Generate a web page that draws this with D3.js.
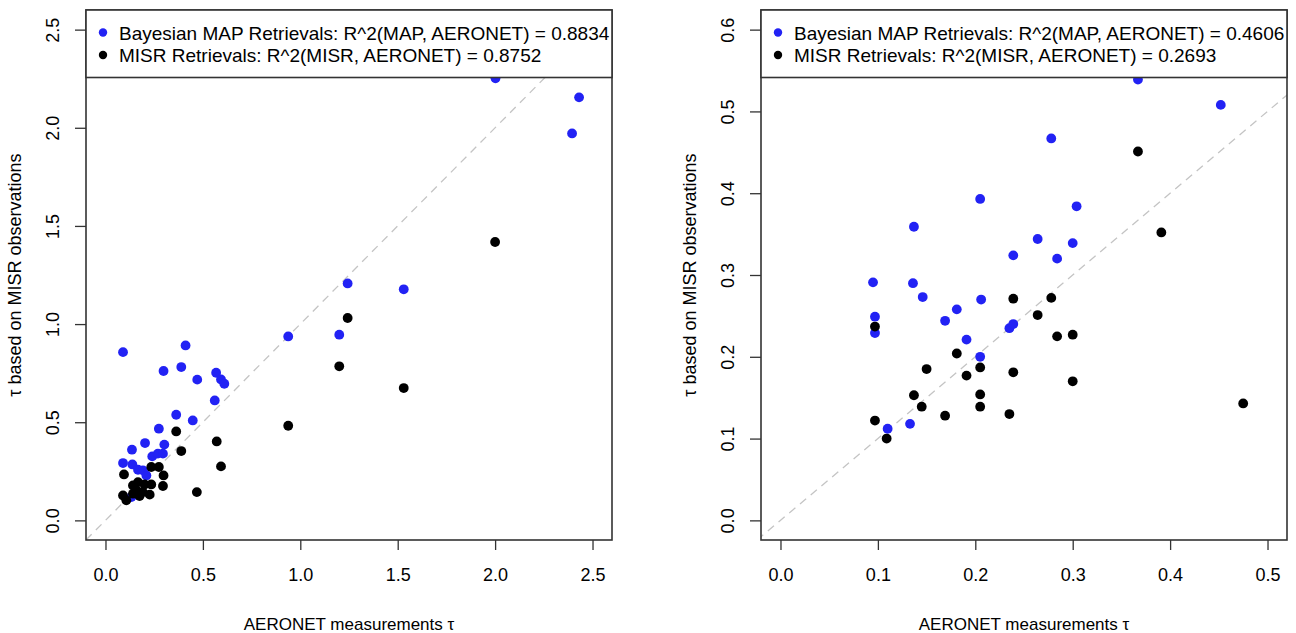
<!DOCTYPE html>
<html>
<head>
<meta charset="utf-8">
<script src="https://cdn.jsdelivr.net/npm/d3@7"></script>
<style>
  html, body { margin: 0; padding: 0; background: #fff; }
  svg text { font-family: "Liberation Sans", Arial, Helvetica, sans-serif; fill: #000; }
</style>
</head>
<body>
<svg id="chart" width="1296" height="633"></svg>
<script>
// ---------- Data ----------
// Left panel
const leftMapX = [0.090,0.411,0.298,0.389,0.471,0.568,0.593,0.610,0.561,0.363,0.448,0.274,0.203,0.136,0.302,0.240,0.269,0.295,0.090,0.138,0.167,0.192,0.210,0.133,1.243,1.531,0.938,1.200,2.002,2.431,2.395];
const leftMapY = [0.857,0.891,0.761,0.781,0.717,0.752,0.718,0.696,0.611,0.538,0.509,0.467,0.394,0.360,0.386,0.326,0.340,0.340,0.292,0.285,0.258,0.255,0.229,0.119,1.207,1.177,0.937,0.946,2.252,2.155,1.971];
const leftMisrX = [0.363,0.389,0.571,0.593,0.469,0.095,0.235,0.274,0.298,0.295,0.235,0.201,0.167,0.141,0.159,0.192,0.227,0.141,0.090,0.107,0.175,1.243,1.200,1.531,0.938,2.000];
const leftMisrY = [0.453,0.353,0.402,0.275,0.144,0.234,0.272,0.272,0.229,0.175,0.183,0.183,0.195,0.178,0.153,0.144,0.131,0.136,0.127,0.102,0.124,1.031,0.785,0.674,0.482,1.418];
// Right panel
const rightMapX = [0.205,0.137,0.239,0.264,0.284,0.095,0.136,0.146,0.206,0.181,0.169,0.097,0.097,0.191,0.235,0.239,0.205,0.110,0.133,0.367,0.452,0.278,0.304,0.300];
const rightMapY = [0.393,0.359,0.324,0.344,0.320,0.291,0.290,0.273,0.270,0.258,0.244,0.249,0.229,0.221,0.235,0.240,0.200,0.112,0.118,0.539,0.508,0.467,0.384,0.339];
const rightMisrX = [0.097,0.239,0.278,0.264,0.284,0.181,0.150,0.191,0.205,0.239,0.137,0.145,0.205,0.205,0.169,0.235,0.097,0.109,0.367,0.391,0.300,0.300,0.475];
const rightMisrY = [0.237,0.271,0.272,0.251,0.225,0.204,0.185,0.177,0.187,0.181,0.153,0.139,0.154,0.139,0.128,0.130,0.122,0.100,0.451,0.352,0.227,0.170,0.143];

const leftTicks = [0.0, 0.5, 1.0, 1.5, 2.0, 2.5];
const rightTicks = [0.0, 0.1, 0.2, 0.3, 0.4, 0.5];
const rightYTicks = [0.0, 0.1, 0.2, 0.3, 0.4, 0.5, 0.6];
const leftLim = [0, 2.5];
const rightXLim = [0, 0.5];
const rightYLim = [0, 0.6];

const legendLeft = ["Bayesian MAP Retrievals: R^2(MAP, AERONET) = 0.8834", "MISR Retrievals: R^2(MISR, AERONET) = 0.8752"];
const legendRight = ["Bayesian MAP Retrievals: R^2(MAP, AERONET) = 0.4606", "MISR Retrievals: R^2(MISR, AERONET) = 0.2693"];
const xTitle = "AERONET measurements \u03C4";
const yTitle = "\u03C4 based on MISR observations";

// ---------- Style ----------
const BLUE = "#2222f4";
const FRAME = "#333";
const TICKFONT = 18;
const LEGFONT = 19;
const XTFONT = 17;
const YTFONT = 18;
const svg = d3.select("#chart");

function ext(lim) { const w = lim[1] - lim[0]; return [lim[0] - 0.04 * w, lim[1] + 0.04 * w]; }

function panel(opts) {
  const { x0, x1, y0, y1 } = opts.box;
  const g = svg.append("g");
  const x = d3.scaleLinear().domain(ext(opts.xlim)).range([x0, x1]);
  const y = d3.scaleLinear().domain(ext(opts.ylim)).range([y1, y0]);
  const clipId = "clip" + opts.id;
  g.append("clipPath").attr("id", clipId).append("rect")
    .attr("x", x0).attr("y", y0).attr("width", x1 - x0).attr("height", y1 - y0);

  // diagonal y=x
  const dmin = Math.min(x.domain()[0], y.domain()[0]);
  const dmax = Math.max(x.domain()[1], y.domain()[1]);
  g.append("line").attr("clip-path", `url(#${clipId})`)
    .attr("x1", x(dmin)).attr("y1", y(dmin)).attr("x2", x(dmax)).attr("y2", y(dmax))
    .attr("stroke", "#c4c4c4").attr("stroke-width", 1.3).attr("stroke-dasharray", "8,6");

  const pts = g.append("g").attr("clip-path", `url(#${clipId})`);
  pts.selectAll("circle.map").data(opts.mapX.map((v, i) => [v, opts.mapY[i]]))
    .join("circle").attr("class", "map")
    .attr("cx", d => x(d[0])).attr("cy", d => y(d[1])).attr("r", 4.9).attr("fill", BLUE);
  pts.selectAll("circle.misr").data(opts.misrX.map((v, i) => [v, opts.misrY[i]]))
    .join("circle").attr("class", "misr")
    .attr("cx", d => x(d[0])).attr("cy", d => y(d[1])).attr("r", 4.9).attr("fill", "#000");

  // axes
  const xa = g.append("g").attr("transform", `translate(0,${y1})`)
    .call(d3.axisBottom(x).tickValues(opts.xticks).tickFormat(d3.format(".1f")).tickSize(10).tickPadding(18));
  xa.select(".domain").remove();
  xa.selectAll("line").attr("stroke", FRAME).attr("stroke-width", 1.3);
  xa.selectAll("text").attr("font-size", TICKFONT).attr("fill", "#000").attr("font-family", "Liberation Sans, Arial, sans-serif");

  const ya = g.append("g").attr("transform", `translate(${x0},0)`)
    .call(d3.axisLeft(y).tickValues(opts.yticks).tickFormat(d3.format(".1f")).tickSize(11).tickPadding(0));
  ya.select(".domain").remove();
  ya.selectAll("line").attr("stroke", FRAME).attr("stroke-width", 1.3);
  ya.selectAll("text")
    .attr("font-size", TICKFONT).attr("fill", "#000").attr("font-family", "Liberation Sans, Arial, sans-serif")
    .attr("text-anchor", "middle").attr("x", null)
    .attr("transform", "translate(-27,0) rotate(-90)").attr("dy", "0");

  // frame
  g.append("rect").attr("x", x0).attr("y", y0).attr("width", x1 - x0).attr("height", y1 - y0)
    .attr("fill", "none").attr("stroke", FRAME).attr("stroke-width", 1.6);

  // legend
  const lh = 67.5;
  g.append("rect").attr("x", x0).attr("y", y0).attr("width", x1 - x0).attr("height", lh)
    .attr("fill", "#fff").attr("stroke", FRAME).attr("stroke-width", 1.6);
  const items = [{ c: BLUE, t: opts.legend[0] }, { c: "#000", t: opts.legend[1] }];
  items.forEach((it, i) => {
    const cy = y0 + 22.5 + i * 22.5;
    g.append("circle").attr("cx", x0 + 17).attr("cy", cy).attr("r", 4.2).attr("fill", it.c);
    g.append("text").attr("x", x0 + 33).attr("y", cy + 7).attr("font-size", LEGFONT).text(it.t);
  });

  // titles
  g.append("text").attr("x", (x0 + x1) / 2).attr("y", 630).attr("text-anchor", "middle")
    .attr("font-size", XTFONT).text(xTitle);
  g.append("text").attr("transform", `translate(${x0 - 65},${(y0 + y1) / 2}) rotate(-90)`)
    .attr("text-anchor", "middle").attr("font-size", YTFONT).text(yTitle);
}

panel({ id: "L", box: { x0: 86, x1: 612, y0: 10, y1: 540 }, xlim: leftLim, ylim: leftLim,
  xticks: leftTicks, yticks: leftTicks, mapX: leftMapX, mapY: leftMapY, misrX: leftMisrX, misrY: leftMisrY, legend: legendLeft });
panel({ id: "R", box: { x0: 761, x1: 1287, y0: 10, y1: 540 }, xlim: rightXLim, ylim: rightYLim,
  xticks: rightTicks, yticks: rightYTicks, mapX: rightMapX, mapY: rightMapY, misrX: rightMisrX, misrY: rightMisrY, legend: legendRight });
</script>
</body>
</html>
